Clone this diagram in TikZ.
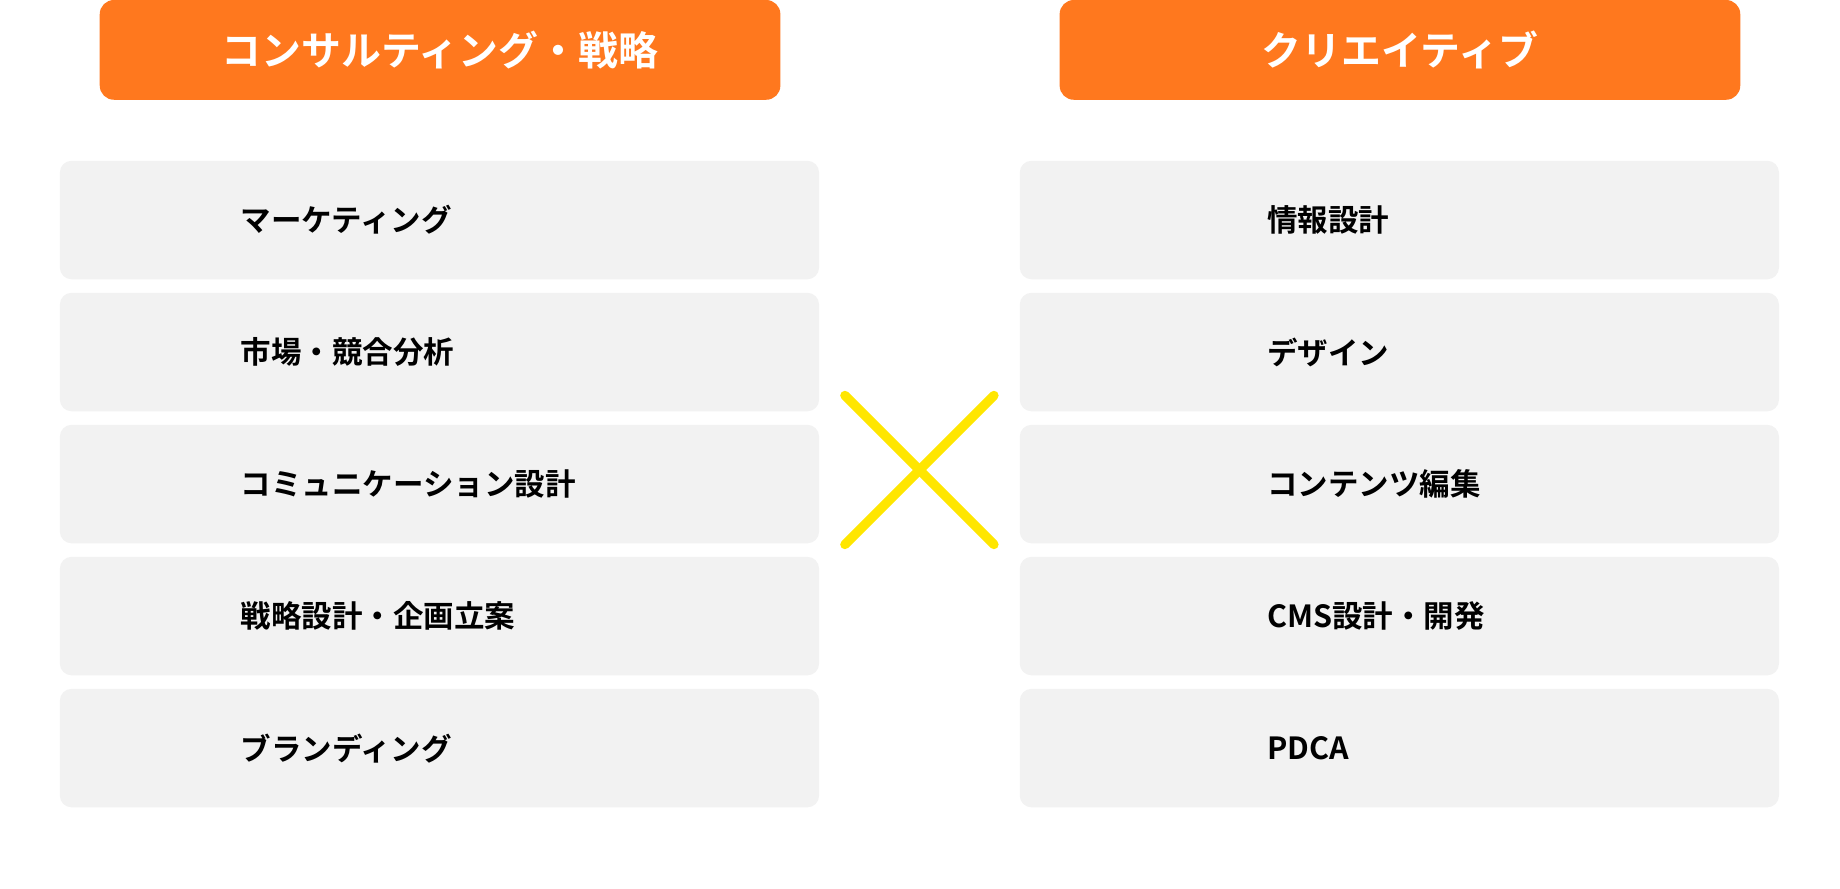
\documentclass[tikz,border=0pt]{standalone}
\usepackage{fontspec}
\setmainfont{Noto Sans CJK JP}[BoldFont={* Bold}]
\usepackage{tikz}
\usetikzlibrary{positioning}
\definecolor{headorange}{RGB}{255,120,30}
\definecolor{boxgray}{RGB}{242,242,242}
\definecolor{crossyellow}{RGB}{255,230,0}
\tikzset{
  headbox/.style={fill=headorange, rounded corners=6pt, minimum width=290pt, minimum height=42.5pt, inner sep=0pt, text=white, font=\bfseries\fontsize{17}{17}\selectfont},
  itembox/.style={fill=boxgray, rounded corners=5pt, minimum width=323.5pt, minimum height=50.5pt, inner sep=0pt},
  itemtext/.style={anchor=west, inner sep=0pt, font=\bfseries\fontsize{13}{13}\selectfont},
  crossline/.style={draw=crossyellow, line width=4pt, line cap=round}
}
\begin{document}
\begin{tikzpicture}[x=0.5pt,y=0.5pt,yscale=-1]
	\useasboundingbox (0,0) rectangle (1568,757);

	% headers
	\node[headbox] (hleft) at (375,42.5) {コンサルティング・戦略};
	\node[headbox] (hright) at (1193,42.5) {クリエイティブ};

	% left column
	\foreach \i/\t in {1/マーケティング, 2/市場・競合分析, 3/コミュニケーション設計, 4/戦略設計・企画立案, 5/ブランディング}{
		\node[itembox] (l\i) at (374.5,{187.5+112.5*(\i-1)}) {};
		\node[itemtext] (lt\i) at ([xshift=77pt]l\i.west) {\t};
	}

	% right column
	\foreach \i/\t in {1/情報設計, 2/デザイン, 3/コンテンツ編集, 4/CMS設計・開発, 5/PDCA}{
		\node[itembox] (r\i) at (1192.5,{187.5+112.5*(\i-1)}) {};
		\node[itemtext] (rt\i) at ([xshift=105.5pt]r\i.west) {\t};
	}

	% cross
	\coordinate (xa) at (720,337);
	\coordinate (xb) at (847,464);
	\coordinate (xc) at (720,464);
	\coordinate (xd) at (847,337);
	\draw[crossline] (xa) -- (xb);
	\draw[crossline] (xc) -- (xd);
\end{tikzpicture}
\end{document}
